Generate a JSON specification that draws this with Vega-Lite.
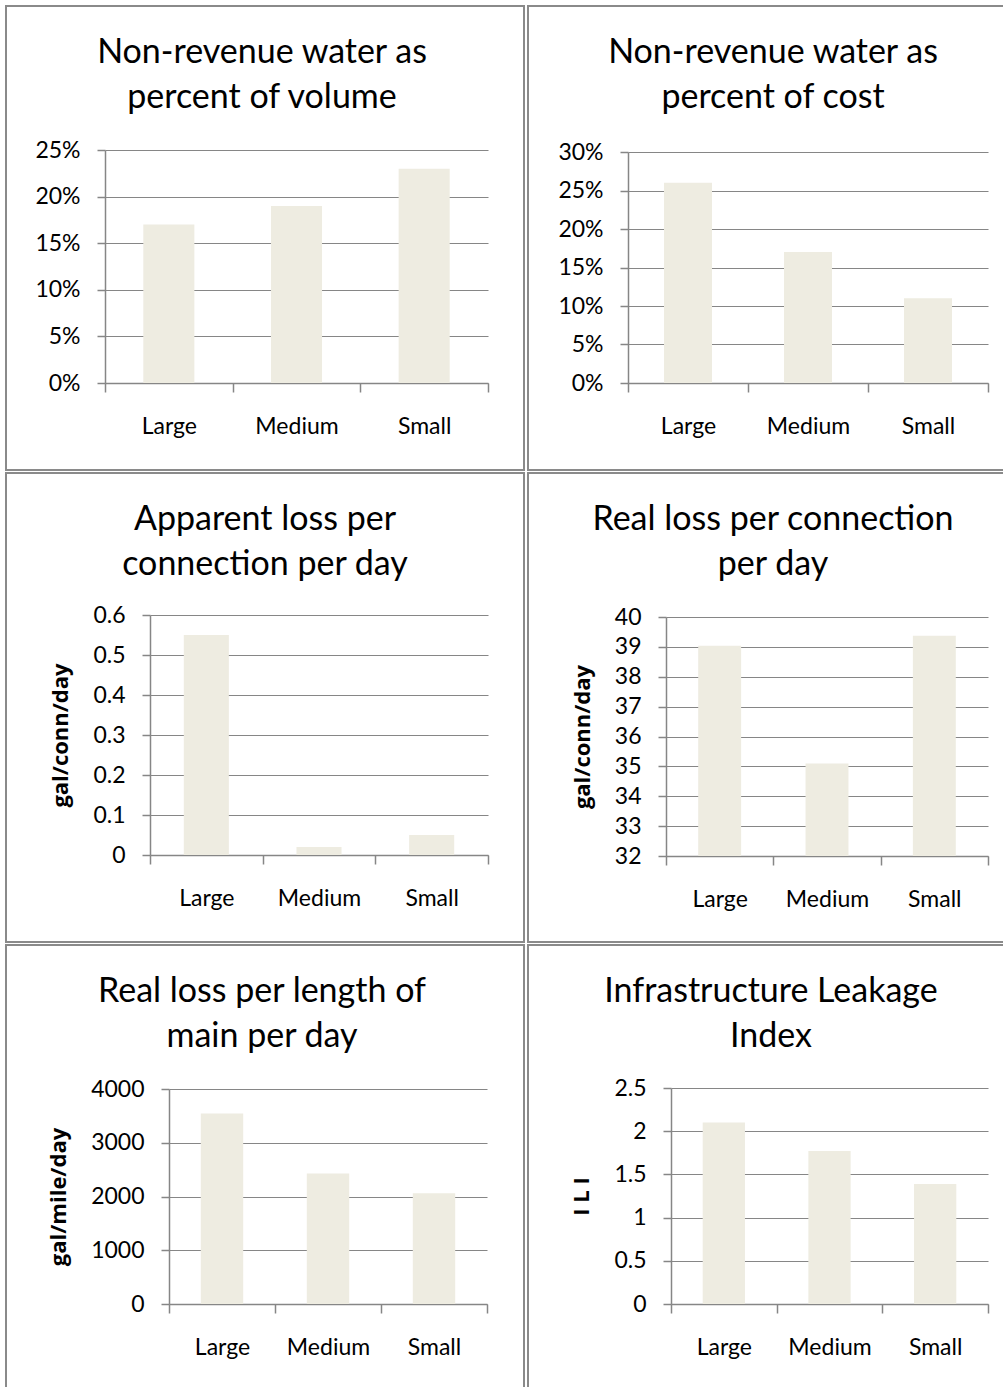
{
  "$schema": "https://vega.github.io/schema/vega-lite/v6.json",
  "padding": {"left": 5, "top": 5, "right": 0, "bottom": 0},
  "background": "white",
  "bounds": "flush",
  "datasets": {
    "vol": [{"size": "Large", "value": 0.17}, {"size": "Medium", "value": 0.19}, {"size": "Small", "value": 0.23}],
    "cost": [{"size": "Large", "value": 0.26}, {"size": "Medium", "value": 0.17}, {"size": "Small", "value": 0.11}],
    "app": [{"size": "Large", "value": 0.55}, {"size": "Medium", "value": 0.02}, {"size": "Small", "value": 0.05}],
    "realconn": [{"size": "Large", "value": 39.04}, {"size": "Medium", "value": 35.1}, {"size": "Small", "value": 39.37}],
    "reallen": [{"size": "Large", "value": 3546}, {"size": "Medium", "value": 2428}, {"size": "Small", "value": 2062}],
    "ili": [{"size": "Large", "value": 2.1}, {"size": "Medium", "value": 1.77}, {"size": "Small", "value": 1.39}]
  },
  "columns": 2,
  "spacing": {"row": 3, "column": 4},
  "concat": [
    {
      "width": 518, "height": 464,
      "data": {"name": "vol"},
      "title": {"text": ["Non-revenue water as", "percent of volume"], "dx": -3},
      "mark": {"type": "bar", "width": {"band": 0.4}},
      "encoding": {
        "x": {"field": "size", "type": "nominal", "sort": null,
          "scale": {"range": [99, 482], "paddingInner": 0, "paddingOuter": 0},
          "axis": {"offset": -87, "title": null}},
        "y": {"field": "value", "type": "quantitative",
          "scale": {"domain": [0, 0.25], "range": [377, 144], "nice": false},
          "axis": {"offset": -99, "values": [0, 0.05, 0.1, 0.15, 0.2, 0.25], "format": ".0%", "title": null}}
      }
    },
    {
      "width": 480, "height": 464,
      "data": {"name": "cost"},
      "title": {"text": ["Non-revenue water as", "percent of cost"], "dx": 5},
      "mark": {"type": "bar", "width": {"band": 0.4}},
      "encoding": {
        "x": {"field": "size", "type": "nominal", "sort": null,
          "scale": {"range": [100, 460], "paddingInner": 0, "paddingOuter": 0},
          "axis": {"offset": -87, "title": null}},
        "y": {"field": "value", "type": "quantitative",
          "scale": {"domain": [0, 0.3], "range": [377, 146], "nice": false},
          "axis": {"offset": -100, "values": [0, 0.05, 0.1, 0.15, 0.2, 0.25, 0.3], "format": ".0%", "title": null}}
      }
    },
    {
      "width": 518, "height": 469,
      "data": {"name": "app"},
      "title": {"text": ["Apparent loss per", "connection per day"]},
      "mark": {"type": "bar", "width": {"band": 0.4}},
      "encoding": {
        "x": {"field": "size", "type": "nominal", "sort": null,
          "scale": {"range": [144, 482], "paddingInner": 0, "paddingOuter": 0},
          "axis": {"offset": -87, "title": null}},
        "y": {"field": "value", "type": "quantitative",
          "scale": {"domain": [0, 0.6], "range": [382, 142], "nice": false},
          "axis": {"offset": -144, "values": [0, 0.1, 0.2, 0.3, 0.4, 0.5, 0.6], "format": "~g", "title": "gal/conn/day"}}
      }
    },
    {
      "width": 480, "height": 469,
      "data": {"name": "realconn"},
      "title": {"text": ["Real loss per connection", "per day"], "dx": 5},
      "mark": {"type": "bar", "width": {"band": 0.4}},
      "encoding": {
        "x": {"field": "size", "type": "nominal", "sort": null,
          "scale": {"range": [138, 460], "paddingInner": 0, "paddingOuter": 0},
          "axis": {"offset": -86, "title": null}},
        "y": {"field": "value", "type": "quantitative",
          "scale": {"domain": [32, 40], "range": [383, 144], "nice": false, "zero": false},
          "axis": {"offset": -138, "values": [32, 33, 34, 35, 36, 37, 38, 39, 40], "format": "d", "title": "gal/conn/day"}},
        "y2": {"datum": 32}
      }
    },
    {
      "width": 518, "height": 450,
      "data": {"name": "reallen"},
      "title": {"text": ["Real loss per length of", "main per day"], "dx": -3},
      "mark": {"type": "bar", "width": {"band": 0.4}},
      "encoding": {
        "x": {"field": "size", "type": "nominal", "sort": null,
          "scale": {"range": [163, 481], "paddingInner": 0, "paddingOuter": 0},
          "axis": {"offset": -91, "title": null}},
        "y": {"field": "value", "type": "quantitative",
          "scale": {"domain": [0, 4000], "range": [359, 144], "nice": false},
          "axis": {"offset": -163, "values": [0, 1000, 2000, 3000, 4000], "format": "d", "title": "gal/mile/day"}}
      }
    },
    {
      "width": 480, "height": 450,
      "data": {"name": "ili"},
      "title": {"text": ["Infrastructure Leakage", "Index"], "dx": 3},
      "mark": {"type": "bar", "width": {"band": 0.4}},
      "encoding": {
        "x": {"field": "size", "type": "nominal", "sort": null,
          "scale": {"range": [143, 460], "paddingInner": 0, "paddingOuter": 0},
          "axis": {"offset": -91, "title": null}},
        "y": {"field": "value", "type": "quantitative",
          "scale": {"domain": [0, 2.5], "range": [359, 143], "nice": false},
          "axis": {"offset": -143, "values": [0, 0.5, 1, 1.5, 2, 2.5], "format": "~g", "title": "I L I"}}
      }
    }
  ],
  "config": {
    "view": {"stroke": "#8a8a8a", "strokeWidth": 2},
    "bar": {"color": "#EEECE1"},
    "title": {"font": "Lato", "fontSize": 34, "fontWeight": "normal", "color": "#000000", "lineHeight": 45, "anchor": "middle", "frame": "group", "baseline": "alphabetic", "offset": -109},
    "axis": {"labelFont": "Lato", "labelFontSize": 23, "labelColor": "#000000", "domainColor": "#868686", "domainWidth": 1.5, "tickColor": "#868686", "tickWidth": 1.5, "gridColor": "#868686", "gridWidth": 1.2, "titleFont": "Open Sans", "titleFontSize": 22, "titleFontWeight": "bold", "titleColor": "#000000"},
    "axisX": {"grid": false, "tickBand": "extent", "tickSize": 9, "labelPadding": 23, "labelAngle": 0},
    "axisY": {"grid": true, "tickSize": 8, "labelPadding": 17, "titlePadding": 20}
  }
}
